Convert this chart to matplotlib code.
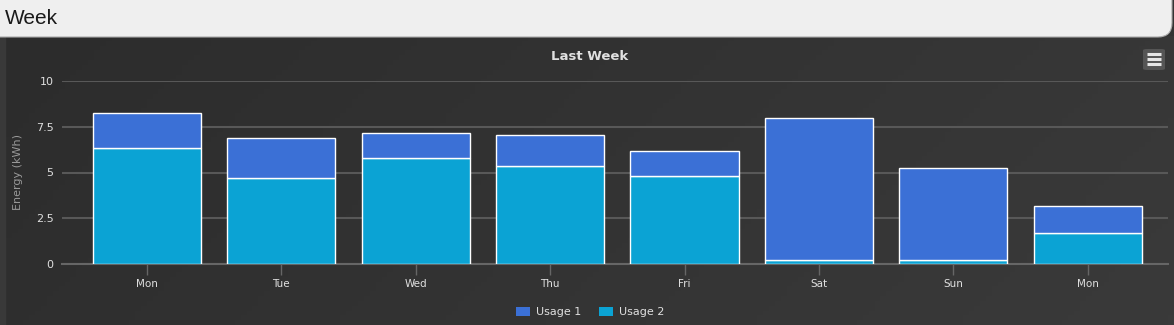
import numpy as np
import matplotlib
matplotlib.use("Agg")
import matplotlib.pyplot as plt
from matplotlib.patches import FancyBboxPatch, Rectangle

# data (kWh)
days = ["Mon", "Tue", "Wed", "Thu", "Fri", "Sat", "Sun", "Mon"]
usage1 = [1.91, 2.19, 1.37, 1.69, 1.36, 7.76, 5.03, 1.48]
usage2 = [6.34, 4.70, 5.79, 5.36, 4.81, 0.22, 0.22, 1.69]
yticks = [0, 2.5, 5, 7.5, 10]
ytick_labels = ["0", "2.5", "5", "7.5", "10"]

W, H = 1174, 325
c1 = "#3b70d6"
c2 = "#0ba3d4"
txt = "#e0e0e0"

fig = plt.figure(figsize=(W / 100, H / 100), dpi=100)
fig.patch.set_facecolor("#333333")

# dark chart background with a faint gradient
bg = fig.add_axes([0, 0, 1, (H - 36) / H])
gx, gy = np.meshgrid(np.linspace(0, 1, 200), np.linspace(0, 1, 60))
grad = 0.8 * gx + 0.2 * gy
bg.imshow(grad, cmap=matplotlib.colors.LinearSegmentedColormap.from_list(
    "g", ["#2c2c2c", "#3a3a3a"]), aspect="auto", extent=[0, 1, 0, 1])
bg.add_patch(Rectangle((0, 0), 5 / W, 1, color="#393939"))
bg.set_xlim(0, 1)
bg.set_ylim(0, 1)
bg.axis("off")

# header bar
fig.patches.append(FancyBboxPatch((-0.02, (H - 37) / H), 1172 / W + 0.02, 0.3,
                                  boxstyle="round,pad=0,rounding_size=0.012",
                                  transform=fig.transFigure, facecolor="#efefef",
                                  edgecolor="#aaaaaa", lw=0.8, zorder=1,
                                  mutation_aspect=W / H))
fig.text(5 / W, 1 - 18 / H, "Week", family="Liberation Sans", fontsize=15,
         color="#1a1a1a", va="center", ha="left")

# plot area
x0, x1, ytop, ybot = 62, 1168, 81, 264
ax = fig.add_axes([x0 / W, (H - ybot) / H, (x1 - x0) / W, (ybot - ytop) / H])
ax.set_facecolor("none")
x = np.arange(len(days))
ax.bar(x, usage2, width=0.805, color=c2, edgecolor="white", linewidth=1.0,
       label="Usage 2", zorder=3)
ax.bar(x, usage1, bottom=usage2, width=0.805, color=c1, edgecolor="white",
       linewidth=1.0, label="Usage 1", zorder=3)
ax.set_xlim(-0.632, 7.597)
ax.set_ylim(0, 10)
ax.set_yticks(yticks)
ax.set_yticklabels(ytick_labels)
ax.set_xticks(x)
ax.set_xticklabels(days)
for s in ["top", "right", "left"]:
    ax.spines[s].set_visible(False)
ax.spines["bottom"].set_color("#666666")
ax.spines["bottom"].set_linewidth(1.5)
ax.grid(axis="y", color="#585858", linewidth=1.5, zorder=0)
ax.tick_params(axis="y", length=0, pad=6, labelcolor=txt, labelsize=8)
ax.tick_params(axis="x", length=8, width=1, color="#666666", pad=3,
               labelcolor=txt, labelsize=7.5)
ax.set_ylabel("Energy (kWh)", color="#999999", fontsize=8, labelpad=9)

fig.text(590 / W, 1 - 56 / H, "Last Week", color=txt, fontsize=9.5,
         fontweight="bold", ha="center", va="center")

# menu button
fig.patches.append(FancyBboxPatch((1143 / W, 1 - 70 / H), 22 / W, 21 / H,
                                  boxstyle="round,pad=0,rounding_size=0.004",
                                  transform=fig.transFigure, facecolor="#555555",
                                  edgecolor="none", zorder=2))
for yy in (54, 59, 64):
    fig.add_artist(plt.Line2D([1147 / W, 1161 / W], [1 - yy / H] * 2, color="#e6e6e6",
                              lw=2.2, solid_capstyle="butt", transform=fig.transFigure,
                              zorder=5))

# legend
h, l = ax.get_legend_handles_labels()
leg = fig.legend(h[::-1], l[::-1], loc="center", bbox_to_anchor=(590 / W, 1 - 312 / H),
                 ncol=2, frameon=False, fontsize=8, labelcolor=txt, handlelength=1.3,
                 handleheight=0.9, columnspacing=1.6, handletextpad=0.5)
for p in leg.get_patches():
    p.set_edgecolor("none")

fig.savefig("out.png", dpi=100, facecolor=fig.get_facecolor())
